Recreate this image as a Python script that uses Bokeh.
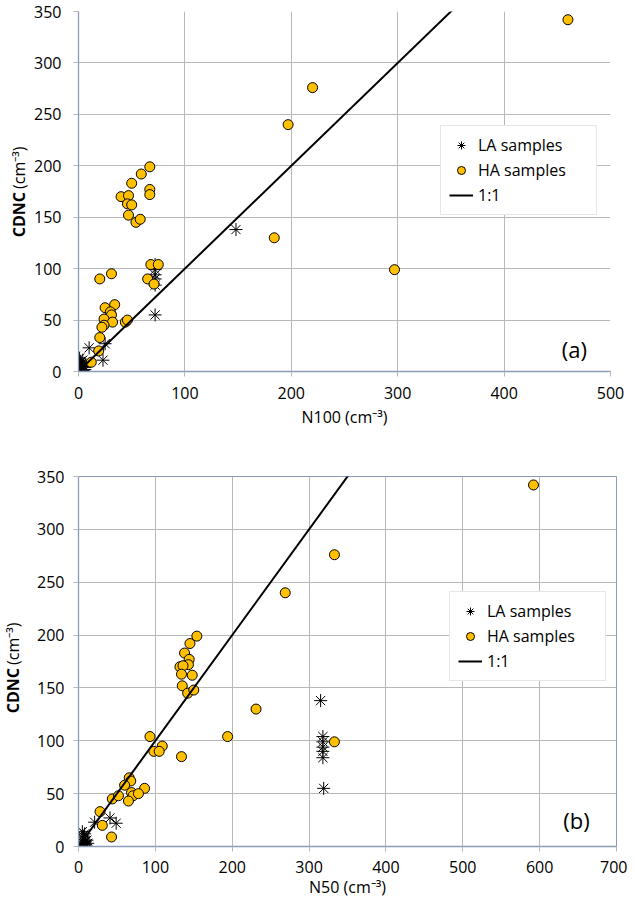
import math
from bokeh.plotting import figure
from bokeh.models import Range1d, FixedTicker, Label, Legend, LegendItem
from bokeh.layouts import column, row
from bokeh.embed import file_html
from bokeh.resources import INLINE

# ---------------- data ----------------
# HA samples: CDNC shared by both panels, with N100 (panel a) and N50 (panel b)
ha_cdnc = [342, 276, 240, 199, 192, 183, 177, 172, 170, 171, 163, 162, 152, 145, 148,
           130, 104, 104, 99, 95, 90, 90, 85, 65, 62, 58, 55, 51, 48, 45, 43, 48, 50,
           33, 20, 9]
ha_n100 = [460, 220, 197, 67, 59, 50, 67, 67, 40, 47, 46, 50, 47, 54, 58,
           184, 68, 75, 297, 31, 20, 65, 71, 34, 25, 30, 31, 24, 32, 24, 22, 44, 46,
           20, 19, 12]
ha_n50 = [592, 333, 269, 154, 145, 138, 144, 143, 132, 136, 134, 148, 135, 142, 150,
          231, 93, 194, 333, 109, 98, 105, 134, 66, 68, 60, 86, 69, 71, 44, 65, 52, 78,
          28, 31, 43]

# LA samples, panel (a)
la_n100 = [148, 72, 72, 72, 72, 72, 72, 10, 25, 23,
           1, 2, 1, 3, 2, 4, 5, 3, 6, 1, 4, 2, 6]
la_cdnc_a = [138, 104, 99, 94, 90, 84, 55, 23, 27, 11,
             13, 10, 7, 5, 3, 1, 0.5, 8, 4, 1, 11, 6, 2]
# LA samples, panel (b)
la_n50 = [315, 318, 318, 318, 318, 318, 319, 21, 41, 49,
          5, 6, 7, 8, 9, 10, 6, 8, 11, 4, 7, 9, 12]
la_cdnc_b = [138, 104, 99, 94, 90, 84, 55, 23, 27, 22,
             14, 10, 7, 4, 2, 0.5, 3, 12, 6, 1, 9, 5, 3]

# 1:1 reference line
one_to_one = [0, 700]

y_ticks = [0, 50, 100, 150, 200, 250, 300, 350]
x_ticks_a = [0, 100, 200, 300, 400, 500]
x_ticks_b = [0, 100, 200, 300, 400, 500, 600, 700]

FONT = "Open Sans"
AXIS_COLOR = "#8c9cb8"
GRID_COLOR = "#b8b8b8"
HA_COLOR = "#FFC000"

H_A = 431   # 11 + 360 + 60
H_B = 469   # 45 + 370 + 54
STRIP_W = 30


def make_panel(x_la, y_la, x_ha, y_ha, xmax, xticks, xlabel, tag, tag_xy,
               frame_w, frame_h, b_left, b_right, b_top, b_bottom,
               legend_loc, x_standoff, y_standoff, title_standoff, outline):
    p = figure(frame_width=frame_w, frame_height=frame_h,
               x_range=Range1d(0, xmax), y_range=Range1d(0, 350),
               output_backend="svg", toolbar_location=None,
               min_border_left=b_left, min_border_right=b_right,
               min_border_top=b_top, min_border_bottom=b_bottom)
    p.background_fill_color = "white"
    p.border_fill_color = "white"
    p.outline_line_color = outline

    p.xaxis.ticker = FixedTicker(ticks=xticks)
    p.yaxis.ticker = FixedTicker(ticks=y_ticks)
    for ax in (p.xaxis, p.yaxis):
        ax.axis_line_color = AXIS_COLOR
        ax.axis_line_width = 1.3
        ax.major_tick_line_color = GRID_COLOR
        ax.major_tick_out = 5
        ax.major_tick_in = 0
        ax.minor_tick_line_color = None
        ax.major_label_text_font = FONT
        ax.major_label_text_font_size = "16px"
        ax.major_label_text_color = "#000000"
    p.yaxis.major_label_standoff = y_standoff
    p.xaxis.major_label_standoff = x_standoff
    p.xaxis.axis_label = xlabel
    p.xaxis.axis_label_text_font = FONT
    p.xaxis.axis_label_text_font_size = "16px"
    p.xaxis.axis_label_text_font_style = "normal"
    p.xaxis.axis_label_text_color = "#000000"
    p.xaxis.axis_label_standoff = title_standoff

    p.xgrid.grid_line_color = GRID_COLOR
    p.ygrid.grid_line_color = GRID_COLOR
    p.xgrid.grid_line_width = 1
    p.ygrid.grid_line_width = 1

    r_la = p.scatter(x_la, y_la, marker="asterisk", size=13,
                     line_color="#000000", line_width=1)
    r_ha = p.scatter(x_ha, y_ha, marker="circle", size=10,
                     fill_color=HA_COLOR, line_color="#000000", line_width=1)
    r_line = p.line(one_to_one, one_to_one, line_color="#000000", line_width=2)

    legend = Legend(items=[LegendItem(label="LA samples", renderers=[r_la]),
                           LegendItem(label="HA samples", renderers=[r_ha]),
                           LegendItem(label="1:1", renderers=[r_line])],
                    location=legend_loc)
    legend.margin = 0
    legend.padding = 8
    legend.spacing = 3
    legend.glyph_width = 24
    legend.glyph_height = 20
    legend.label_standoff = 5
    legend.label_width = 110
    legend.label_text_font = FONT
    legend.label_text_font_size = "16px"
    legend.label_text_color = "#000000"
    legend.border_line_color = "#d0d0d0"
    legend.background_fill_color = "white"
    legend.background_fill_alpha = 1
    p.add_layout(legend)

    p.add_layout(Label(x=tag_xy[0], y=tag_xy[1], text=tag, text_align="center",
                       text_baseline="middle", text_font=FONT,
                       text_font_size="22px", text_color="#000000"))
    return p


def add_ytitle(s, x, y_split):
    """Vertical title 'CDNC (cm-3)' with a bold 'CDNC'."""
    s.add_layout(Label(x=x, y=y_split - 1.5, text="CDNC", angle=math.pi / 2,
                       text_align="right", text_baseline="middle",
                       text_font=FONT, text_font_style="bold",
                       text_font_size="16px", text_color="#000000"))
    s.add_layout(Label(x=x, y=y_split + 1.5, text="(cm\u207b\u00b3)", angle=math.pi / 2,
                       text_align="left", text_baseline="middle",
                       text_font=FONT, text_font_size="16px", text_color="#000000"))


pa = make_panel(la_n100, la_cdnc_a, ha_n100, ha_cdnc, 500, x_ticks_a,
                "N100 (cm\u207b\u00b3)", "(a)", (466, 22),
                frame_w=532, frame_h=360, b_left=48, b_right=15, b_top=11, b_bottom=60,
                legend_loc=(362, 156), x_standoff=10, y_standoff=12, title_standoff=4,
                outline=None)

pb = make_panel(la_n50, la_cdnc_b, ha_n50, ha_cdnc, 700, x_ticks_b,
                "N50 (cm\u207b\u00b3)", "(b)", (648, 25),
                frame_w=538, frame_h=370, b_left=42, b_right=15, b_top=45, b_bottom=54,
                legend_loc=(371, 165), x_standoff=9, y_standoff=9, title_standoff=0,
                outline=AXIS_COLOR)

# one narrow full-height strip to the left that holds both vertical titles
strip_h = H_A + H_B
strip = figure(frame_width=STRIP_W, frame_height=strip_h,
               x_range=Range1d(0, STRIP_W), y_range=Range1d(0, strip_h),
               x_axis_type=None, y_axis_type=None,
               output_backend="svg", toolbar_location=None,
               min_border_left=0, min_border_right=0,
               min_border_top=0, min_border_bottom=0)
strip.outline_line_color = None
strip.grid.visible = False
strip.background_fill_color = "white"
strip.border_fill_color = "white"
# positions measured from the strip bottom (page y -> strip_h - (y - 8))
add_ytitle(strip, 18, strip_h - (198 - 8))
add_ytitle(strip, 12, strip_h - (674 - 8))

layout = row(strip, column(pa, pb, spacing=0), spacing=0)
open("out.html", "w").write(file_html(layout, INLINE))
